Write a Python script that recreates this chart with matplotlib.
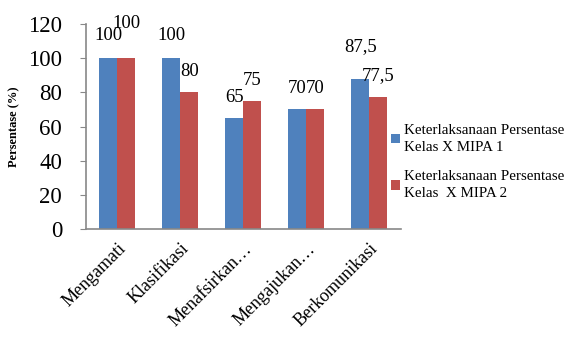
import matplotlib
matplotlib.use("Agg")
import matplotlib.pyplot as plt
import numpy as np

categories = ["Mengamati", "Klasifikasi", "Menafsirkan…", "Mengajukan…", "Berkomunikasi"]
series1 = [100, 100, 65, 70, 87.5]
series2 = [100, 80, 75, 70, 77.5]
labels1 = ["100", "100", "65", "70", "87,5"]
labels2 = ["100", "80", "75", "70", "77,5"]
legend_names = ["Keterlaksanaan Persentase\nKelas X MIPA 1", "Keterlaksanaan Persentase\nKelas  X MIPA 2"]
yticks = [0, 20, 40, 60, 80, 100, 120]

# label vertical offsets (points) above bar tops
off1 = [16, 16, 15, 15, 24]
off2 = [25, 15, 15, 15, 15]

plt.rcParams['font.family'] = ['Liberation Serif', 'DejaVu Serif']
fig = plt.figure(figsize=(5.76, 3.41), dpi=100)
ax = fig.add_axes([0.149, 0.328, 0.547, 0.602])

blue = "#4F81BD"
red = "#C0504D"
x = np.arange(len(categories))
w = 0.286
b1 = ax.bar(x - w/2, series1, w, color=blue)
b2 = ax.bar(x + w/2, series2, w, color=red)

for i in range(len(categories)):
    ax.annotate(labels1[i], (x[i] - w/2, series1[i]), xytext=(0, off1[i]),
                textcoords="offset points", ha="center", va="center", fontsize=13.5)
    ax.annotate(labels2[i], (x[i] + w/2, series2[i]), xytext=(0, off2[i]),
                textcoords="offset points", ha="center", va="center", fontsize=13.5)

ax.set_xlim(-0.5, len(categories) - 0.5)
ax.set_ylim(0, 120)
ax.set_yticks(yticks)
ax.set_yticklabels([str(t) for t in yticks], fontsize=16.5)
ax.set_xticks(x)
ax.set_xticklabels(categories, rotation=45, ha="right", rotation_mode="anchor", fontsize=13)
ax.tick_params(axis="x", length=0, pad=8)
ax.tick_params(axis="y", length=4, color="#888888", pad=13)
for s in ["top", "right"]:
    ax.spines[s].set_visible(False)
for s in ["left", "bottom"]:
    ax.spines[s].set_color("#888888")
    ax.spines[s].set_linewidth(1.2)

ax.set_ylabel("Persentase (%)", fontsize=9, fontweight="bold", labelpad=6)

leg = fig.legend([b1, b2], legend_names, loc="center left", bbox_to_anchor=(0.655, 0.525),
                 frameon=False, fontsize=10.8, handlelength=0.6, handleheight=0.6,
                 handletextpad=0.3, labelspacing=1.1)
for t in leg.get_texts():
    t.set_linespacing(1.4)

fig.savefig("out.png", dpi=100)
